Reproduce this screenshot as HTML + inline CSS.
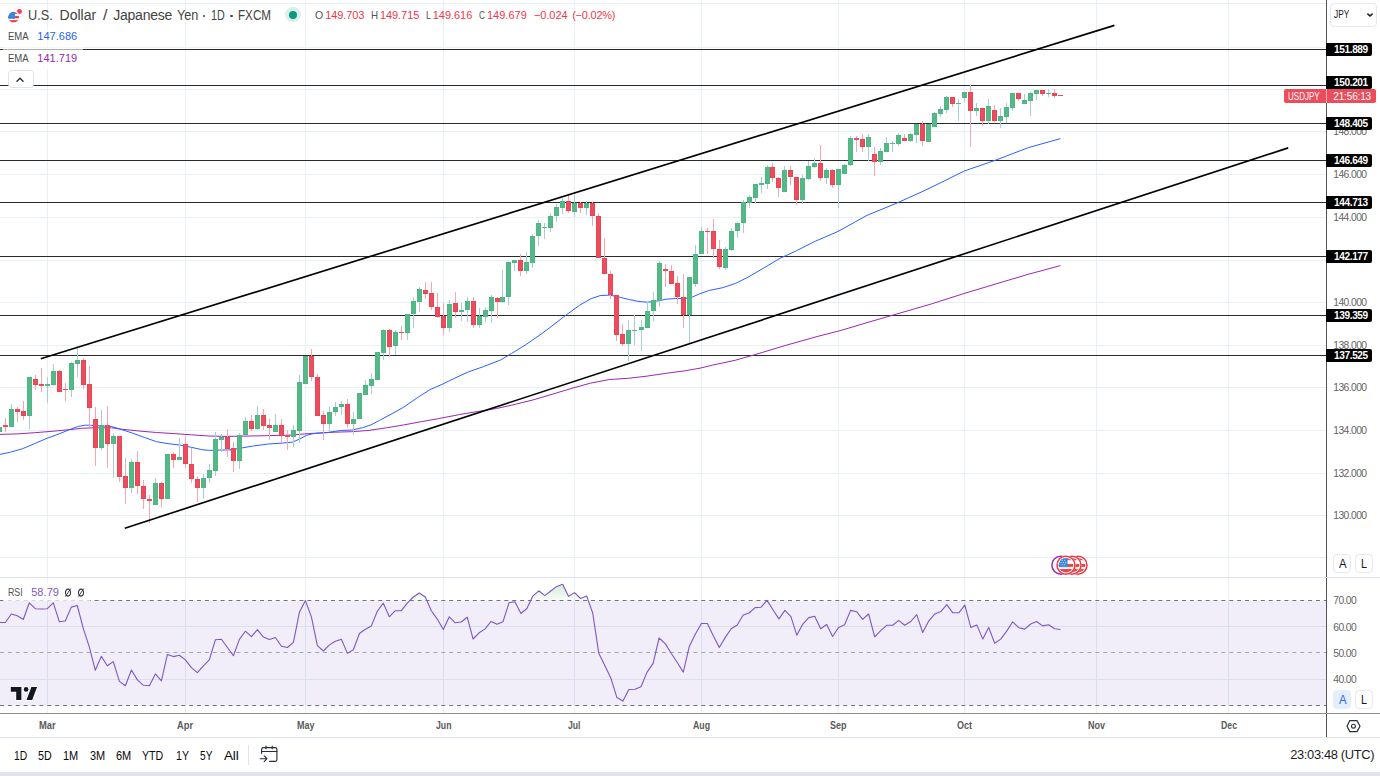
<!DOCTYPE html><html><head><meta charset="utf-8"><title>USDJPY</title><style>
html,body{margin:0;padding:0;background:#fff}
body{width:1380px;height:776px;position:relative;overflow:hidden;font-family:"Liberation Sans",sans-serif;}
.t{position:absolute;white-space:nowrap;line-height:1}
.pl{position:absolute;left:1326px;width:46px;height:13.5px;background:#000;color:#fff;font-weight:bold;font-size:10.1px;letter-spacing:-0.38px;line-height:13.5px;text-align:left;padding-left:8px;box-sizing:border-box;border-radius:0 2px 2px 0}
.gl{position:absolute;left:1333.3px;font-size:10.3px;letter-spacing:-0.58px;color:#636363;line-height:10px;height:10px}
.btn{position:absolute;box-sizing:border-box;width:18px;height:19px;border:1px solid #e6e8f0;border-radius:4px;font-size:13px;line-height:17px;text-align:center;color:#131722;background:#fff}
.mo{position:absolute;top:720px;font-size:9.6px;font-weight:bold;color:#5f5f5f;line-height:10px;transform:translateX(-50%)}
.tb{position:absolute;top:748px;font-size:13px;line-height:14px;color:#1c1c1c;letter-spacing:-0.3px}
.wbg{position:absolute;background:#fff}

</style></head><body>
<svg width="1380" height="776" viewBox="0 0 1380 776" style="position:absolute;left:0;top:0"><rect x="0" y="600.5" width="1326" height="105" fill="#7e57c2" fill-opacity="0.1"/><g fill="#e8f0f5" shape-rendering="crispEdges"><rect x="0" y="3" width="1326" height="1"/><rect x="0" y="47" width="1326" height="1"/><rect x="0" y="89" width="1326" height="1"/><rect x="0" y="131" width="1326" height="1"/><rect x="0" y="174" width="1326" height="1"/><rect x="0" y="217" width="1326" height="1"/><rect x="0" y="260" width="1326" height="1"/><rect x="0" y="302" width="1326" height="1"/><rect x="0" y="345" width="1326" height="1"/><rect x="0" y="387" width="1326" height="1"/><rect x="0" y="430" width="1326" height="1"/><rect x="0" y="473" width="1326" height="1"/><rect x="0" y="515" width="1326" height="1"/><rect x="0" y="557" width="1326" height="1"/><rect x="47" y="0" width="1" height="577"/><rect x="47" y="578" width="1" height="135"/><rect x="185" y="0" width="1" height="577"/><rect x="185" y="578" width="1" height="135"/><rect x="305" y="0" width="1" height="577"/><rect x="305" y="578" width="1" height="135"/><rect x="443" y="0" width="1" height="577"/><rect x="443" y="578" width="1" height="135"/><rect x="574" y="0" width="1" height="577"/><rect x="574" y="578" width="1" height="135"/><rect x="701" y="0" width="1" height="577"/><rect x="701" y="578" width="1" height="135"/><rect x="838" y="0" width="1" height="577"/><rect x="838" y="578" width="1" height="135"/><rect x="964" y="0" width="1" height="577"/><rect x="964" y="578" width="1" height="135"/><rect x="1096" y="0" width="1" height="577"/><rect x="1096" y="578" width="1" height="135"/><rect x="1228" y="0" width="1" height="577"/><rect x="1228" y="578" width="1" height="135"/></g><g fill="#d9dff0" shape-rendering="crispEdges"><rect x="0" y="626" width="1326" height="1"/><rect x="0" y="679" width="1326" height="1"/><rect x="47" y="601" width="1" height="104"/><rect x="185" y="601" width="1" height="104"/><rect x="305" y="601" width="1" height="104"/><rect x="443" y="601" width="1" height="104"/><rect x="574" y="601" width="1" height="104"/><rect x="701" y="601" width="1" height="104"/><rect x="838" y="601" width="1" height="104"/><rect x="964" y="601" width="1" height="104"/><rect x="1096" y="601" width="1" height="104"/><rect x="1228" y="601" width="1" height="104"/></g><g stroke-width="1" fill="none"><path d="M0 600.5H1326" stroke="#6f7280" stroke-dasharray="4 3.88"/><path d="M0 652.5H1326" stroke="#a3a5b5" stroke-dasharray="4 3.88"/><path d="M0 705.5H1326" stroke="#6f7280" stroke-dasharray="4 3.88"/></g><g fill="#2a2a2a" shape-rendering="crispEdges"><rect x="0" y="49" width="1326" height="1"/><rect x="0" y="85" width="1326" height="1"/><rect x="0" y="123" width="1326" height="1"/><rect x="0" y="160" width="1326" height="1"/><rect x="0" y="202" width="1326" height="1"/><rect x="0" y="256" width="1326" height="1"/><rect x="0" y="315" width="1326" height="1"/><rect x="0" y="355" width="1326" height="1"/></g><polyline points="0.0,434.4 17.4,433.9 34.8,432.7 52.2,431.3 69.6,429.6 81.7,428.3 93.9,427.8 111.3,427.8 121.7,429.2 139.1,431.0 156.5,432.5 173.9,433.6 191.3,434.8 208.7,436.0 226.0,436.4 245.0,436.1 264.8,435.7 290.9,435.1 308.3,433.6 334.3,432.2 351.7,431.7 369.1,430.4 386.5,427.8 403.9,424.9 421.3,421.7 438.7,418.6 458.8,414.7 477.7,411.5 496.5,408.5 515.4,404.3 534.2,399.6 553.0,394.0 571.9,388.3 590.7,383.1 609.6,379.5 628.4,378.3 647.2,376.1 666.1,373.3 684.9,370.8 700.0,368.2 712.5,365.1 735.1,360.3 754.4,354.8 786.6,345.1 818.8,336.1 841.4,330.3 867.1,322.6 896.1,314.2 931.5,303.9 963.8,293.6 996.0,283.9 1028.2,274.3 1060.4,265.6" fill="none" stroke="#9c27b0" stroke-width="1" stroke-linejoin="round"/><polyline points="0.0,454.4 10.4,452.2 22.6,448.7 34.8,443.5 47.0,438.3 59.0,433.9 69.6,429.6 78.3,426.4 85.2,425.2 90.4,425.2 97.4,425.7 111.3,426.4 121.7,429.6 132.2,433.0 144.3,437.4 156.5,441.7 167.0,443.5 180.9,445.2 191.3,447.3 201.7,449.6 208.7,450.4 219.1,450.1 231.3,449.8 240.4,448.2 252.6,446.1 268.3,444.0 282.2,443.1 292.6,442.1 299.6,439.1 306.5,435.3 313.5,433.6 327.4,432.5 341.3,430.4 351.7,430.1 362.2,427.8 370.9,424.9 379.6,420.3 390.0,414.8 403.9,407.0 417.8,397.4 430.0,389.6 442.2,384.3 453.2,378.9 468.3,371.9 483.3,366.7 500.3,360.1 511.6,353.5 526.7,344.1 541.7,333.7 553.0,325.2 566.2,314.9 579.4,305.4 590.7,298.8 600.1,295.6 609.6,295.1 619.0,297.0 628.4,299.4 637.8,301.3 647.2,302.2 656.7,301.1 666.1,299.2 675.5,298.5 684.9,298.6 692.4,297.0 699.7,293.8 709.3,290.4 722.2,287.8 735.1,283.6 748.0,277.2 764.1,267.8 780.2,258.2 796.3,250.8 815.6,241.1 838.1,231.4 867.1,215.3 896.1,203.4 921.9,191.8 941.2,182.5 963.8,171.2 996.0,160.0 1028.2,147.7 1060.4,138.6" fill="none" stroke="#2962ff" stroke-width="1" stroke-linejoin="round"/><g shape-rendering="crispEdges"><rect x="-1" y="424" width="1" height="10" fill="#a9cdd3"/><rect x="5" y="418" width="1" height="14" fill="#f5a6ae"/><rect x="11" y="404" width="1" height="23" fill="#a9cdd3"/><rect x="17" y="407" width="1" height="15" fill="#f5a6ae"/><rect x="23" y="401" width="1" height="19" fill="#f5a6ae"/><rect x="29" y="377" width="1" height="52" fill="#a9cdd3"/><rect x="35" y="375" width="1" height="15" fill="#f5a6ae"/><rect x="41" y="368" width="1" height="24" fill="#f5a6ae"/><rect x="47" y="377" width="1" height="26" fill="#a9cdd3"/><rect x="53" y="364" width="1" height="22" fill="#a9cdd3"/><rect x="59" y="370" width="1" height="22" fill="#f5a6ae"/><rect x="65" y="383" width="1" height="18" fill="#f5a6ae"/><rect x="71" y="362" width="1" height="35" fill="#a9cdd3"/><rect x="77" y="346" width="1" height="31" fill="#a9cdd3"/><rect x="83" y="358" width="1" height="31" fill="#f5a6ae"/><rect x="89" y="366" width="1" height="61" fill="#f5a6ae"/><rect x="95" y="407" width="1" height="59" fill="#f5a6ae"/><rect x="101" y="410" width="1" height="40" fill="#a9cdd3"/><rect x="107" y="406" width="1" height="62" fill="#f5a6ae"/><rect x="113" y="433" width="1" height="45" fill="#a9cdd3"/><rect x="119" y="436" width="1" height="46" fill="#f5a6ae"/><rect x="125" y="458" width="1" height="46" fill="#f5a6ae"/><rect x="131" y="459" width="1" height="34" fill="#a9cdd3"/><rect x="137" y="451" width="1" height="43" fill="#f5a6ae"/><rect x="143" y="480" width="1" height="29" fill="#f5a6ae"/><rect x="149" y="495" width="1" height="28" fill="#f5a6ae"/><rect x="155" y="478" width="1" height="27" fill="#a9cdd3"/><rect x="161" y="482" width="1" height="25" fill="#f5a6ae"/><rect x="167" y="454" width="1" height="45" fill="#a9cdd3"/><rect x="173" y="452" width="1" height="16" fill="#f5a6ae"/><rect x="179" y="438" width="1" height="22" fill="#a9cdd3"/><rect x="185" y="436" width="1" height="32" fill="#f5a6ae"/><rect x="191" y="448" width="1" height="35" fill="#f5a6ae"/><rect x="197" y="476" width="1" height="26" fill="#f5a6ae"/><rect x="203" y="474" width="1" height="25" fill="#a9cdd3"/><rect x="209" y="464" width="1" height="19" fill="#a9cdd3"/><rect x="215" y="432" width="1" height="44" fill="#a9cdd3"/><rect x="221" y="434" width="1" height="18" fill="#a9cdd3"/><rect x="227" y="429" width="1" height="28" fill="#f5a6ae"/><rect x="233" y="442" width="1" height="30" fill="#f5a6ae"/><rect x="239" y="433" width="1" height="36" fill="#a9cdd3"/><rect x="245" y="417" width="1" height="18" fill="#a9cdd3"/><rect x="251" y="415" width="1" height="16" fill="#f5a6ae"/><rect x="257" y="406" width="1" height="24" fill="#a9cdd3"/><rect x="263" y="409" width="1" height="21" fill="#f5a6ae"/><rect x="269" y="419" width="1" height="21" fill="#f5a6ae"/><rect x="275" y="414" width="1" height="18" fill="#a9cdd3"/><rect x="281" y="419" width="1" height="24" fill="#f5a6ae"/><rect x="287" y="430" width="1" height="20" fill="#f5a6ae"/><rect x="293" y="425" width="1" height="22" fill="#a9cdd3"/><rect x="299" y="375" width="1" height="68" fill="#a9cdd3"/><rect x="305" y="356" width="1" height="28" fill="#a9cdd3"/><rect x="311" y="349" width="1" height="32" fill="#f5a6ae"/><rect x="317" y="374" width="1" height="42" fill="#f5a6ae"/><rect x="323" y="411" width="1" height="29" fill="#f5a6ae"/><rect x="329" y="406" width="1" height="26" fill="#a9cdd3"/><rect x="335" y="402" width="1" height="14" fill="#a9cdd3"/><rect x="341" y="401" width="1" height="14" fill="#a9cdd3"/><rect x="347" y="399" width="1" height="29" fill="#f5a6ae"/><rect x="353" y="412" width="1" height="23" fill="#a9cdd3"/><rect x="359" y="393" width="1" height="26" fill="#a9cdd3"/><rect x="365" y="380" width="1" height="15" fill="#a9cdd3"/><rect x="371" y="373" width="1" height="21" fill="#a9cdd3"/><rect x="377" y="352" width="1" height="28" fill="#a9cdd3"/><rect x="383" y="329" width="1" height="31" fill="#a9cdd3"/><rect x="389" y="329" width="1" height="28" fill="#f5a6ae"/><rect x="395" y="330" width="1" height="25" fill="#a9cdd3"/><rect x="401" y="326" width="1" height="14" fill="#f5a6ae"/><rect x="407" y="314" width="1" height="26" fill="#a9cdd3"/><rect x="413" y="297" width="1" height="31" fill="#a9cdd3"/><rect x="419" y="287" width="1" height="25" fill="#a9cdd3"/><rect x="425" y="282" width="1" height="17" fill="#f5a6ae"/><rect x="431" y="282" width="1" height="28" fill="#f5a6ae"/><rect x="437" y="293" width="1" height="25" fill="#f5a6ae"/><rect x="443" y="303" width="1" height="32" fill="#f5a6ae"/><rect x="449" y="300" width="1" height="32" fill="#a9cdd3"/><rect x="455" y="292" width="1" height="26" fill="#f5a6ae"/><rect x="461" y="303" width="1" height="18" fill="#a9cdd3"/><rect x="467" y="297" width="1" height="25" fill="#a9cdd3"/><rect x="473" y="297" width="1" height="31" fill="#f5a6ae"/><rect x="479" y="308" width="1" height="20" fill="#a9cdd3"/><rect x="485" y="307" width="1" height="15" fill="#a9cdd3"/><rect x="491" y="295" width="1" height="28" fill="#a9cdd3"/><rect x="497" y="297" width="1" height="21" fill="#f5a6ae"/><rect x="502" y="270" width="1" height="33" fill="#a9cdd3"/><rect x="508" y="262" width="1" height="43" fill="#a9cdd3"/><rect x="514" y="260" width="1" height="11" fill="#a9cdd3"/><rect x="520" y="254" width="1" height="22" fill="#f5a6ae"/><rect x="526" y="252" width="1" height="22" fill="#a9cdd3"/><rect x="532" y="234" width="1" height="34" fill="#a9cdd3"/><rect x="538" y="220" width="1" height="26" fill="#a9cdd3"/><rect x="544" y="223" width="1" height="16" fill="#a9cdd3"/><rect x="550" y="213" width="1" height="19" fill="#a9cdd3"/><rect x="556" y="204" width="1" height="18" fill="#a9cdd3"/><rect x="562" y="198" width="1" height="16" fill="#a9cdd3"/><rect x="568" y="194" width="1" height="19" fill="#f5a6ae"/><rect x="574" y="195" width="1" height="22" fill="#a9cdd3"/><rect x="580" y="202" width="1" height="11" fill="#f5a6ae"/><rect x="586" y="201" width="1" height="14" fill="#a9cdd3"/><rect x="592" y="202" width="1" height="24" fill="#f5a6ae"/><rect x="598" y="213" width="1" height="45" fill="#f5a6ae"/><rect x="604" y="238" width="1" height="36" fill="#f5a6ae"/><rect x="610" y="271" width="1" height="28" fill="#f5a6ae"/><rect x="616" y="295" width="1" height="46" fill="#f5a6ae"/><rect x="622" y="324" width="1" height="22" fill="#f5a6ae"/><rect x="628" y="320" width="1" height="41" fill="#a9cdd3"/><rect x="634" y="315" width="1" height="30" fill="#a9cdd3"/><rect x="641" y="320" width="1" height="31" fill="#a9cdd3"/><rect x="647" y="302" width="1" height="26" fill="#a9cdd3"/><rect x="653" y="292" width="1" height="29" fill="#a9cdd3"/><rect x="659" y="261" width="1" height="46" fill="#a9cdd3"/><rect x="665" y="264" width="1" height="23" fill="#f5a6ae"/><rect x="671" y="265" width="1" height="19" fill="#f5a6ae"/><rect x="677" y="276" width="1" height="28" fill="#f5a6ae"/><rect x="683" y="274" width="1" height="54" fill="#f5a6ae"/><rect x="689" y="277" width="1" height="66" fill="#a9cdd3"/><rect x="695" y="245" width="1" height="42" fill="#a9cdd3"/><rect x="701" y="227" width="1" height="27" fill="#a9cdd3"/><rect x="707" y="228" width="1" height="26" fill="#f5a6ae"/><rect x="713" y="219" width="1" height="39" fill="#f5a6ae"/><rect x="719" y="240" width="1" height="29" fill="#f5a6ae"/><rect x="725" y="247" width="1" height="23" fill="#a9cdd3"/><rect x="731" y="228" width="1" height="23" fill="#a9cdd3"/><rect x="737" y="222" width="1" height="16" fill="#a9cdd3"/><rect x="743" y="200" width="1" height="33" fill="#a9cdd3"/><rect x="749" y="195" width="1" height="13" fill="#a9cdd3"/><rect x="755" y="184" width="1" height="19" fill="#a9cdd3"/><rect x="761" y="177" width="1" height="16" fill="#a9cdd3"/><rect x="767" y="165" width="1" height="24" fill="#a9cdd3"/><rect x="772" y="163" width="1" height="19" fill="#f5a6ae"/><rect x="778" y="177" width="1" height="20" fill="#f5a6ae"/><rect x="784" y="166" width="1" height="26" fill="#a9cdd3"/><rect x="790" y="166" width="1" height="19" fill="#f5a6ae"/><rect x="796" y="177" width="1" height="28" fill="#f5a6ae"/><rect x="802" y="175" width="1" height="29" fill="#a9cdd3"/><rect x="808" y="161" width="1" height="19" fill="#a9cdd3"/><rect x="814" y="158" width="1" height="10" fill="#a9cdd3"/><rect x="820" y="145" width="1" height="36" fill="#f5a6ae"/><rect x="826" y="168" width="1" height="16" fill="#a9cdd3"/><rect x="832" y="169" width="1" height="19" fill="#f5a6ae"/><rect x="838" y="169" width="1" height="39" fill="#a9cdd3"/><rect x="844" y="164" width="1" height="10" fill="#a9cdd3"/><rect x="850" y="136" width="1" height="30" fill="#a9cdd3"/><rect x="856" y="136" width="1" height="16" fill="#f5a6ae"/><rect x="862" y="134" width="1" height="18" fill="#f5a6ae"/><rect x="868" y="134" width="1" height="27" fill="#a9cdd3"/><rect x="874" y="147" width="1" height="29" fill="#f5a6ae"/><rect x="880" y="148" width="1" height="17" fill="#a9cdd3"/><rect x="886" y="137" width="1" height="15" fill="#a9cdd3"/><rect x="892" y="141" width="1" height="11" fill="#a9cdd3"/><rect x="898" y="133" width="1" height="13" fill="#a9cdd3"/><rect x="904" y="134" width="1" height="7" fill="#f5a6ae"/><rect x="910" y="133" width="1" height="9" fill="#a9cdd3"/><rect x="916" y="124" width="1" height="19" fill="#a9cdd3"/><rect x="922" y="121" width="1" height="25" fill="#f5a6ae"/><rect x="928" y="124" width="1" height="18" fill="#a9cdd3"/><rect x="934" y="112" width="1" height="15" fill="#a9cdd3"/><rect x="940" y="106" width="1" height="11" fill="#a9cdd3"/><rect x="946" y="96" width="1" height="17" fill="#a9cdd3"/><rect x="952" y="97" width="1" height="10" fill="#f5a6ae"/><rect x="958" y="99" width="1" height="22" fill="#a9cdd3"/><rect x="964" y="92" width="1" height="10" fill="#a9cdd3"/><rect x="970" y="85" width="1" height="62" fill="#f5a6ae"/><rect x="976" y="103" width="1" height="13" fill="#a9cdd3"/><rect x="982" y="108" width="1" height="18" fill="#f5a6ae"/><rect x="988" y="99" width="1" height="25" fill="#a9cdd3"/><rect x="994" y="105" width="1" height="17" fill="#f5a6ae"/><rect x="1000" y="108" width="1" height="20" fill="#a9cdd3"/><rect x="1006" y="103" width="1" height="20" fill="#a9cdd3"/><rect x="1012" y="93" width="1" height="18" fill="#a9cdd3"/><rect x="1018" y="93" width="1" height="8" fill="#f5a6ae"/><rect x="1024" y="94" width="1" height="10" fill="#a9cdd3"/><rect x="1030" y="92" width="1" height="24" fill="#a9cdd3"/><rect x="1036" y="90" width="1" height="10" fill="#a9cdd3"/><rect x="1042" y="90" width="1" height="6" fill="#f5a6ae"/><rect x="1048" y="89" width="1" height="8" fill="#a9cdd3"/><rect x="1054" y="89" width="1" height="9" fill="#f5a6ae"/><rect x="1060" y="95" width="1" height="1" fill="#f5a6ae"/><rect x="-3" y="427" width="5" height="5" fill="#4fb584"/><rect x="-2" y="428" width="3" height="3" fill="#53b987"/><rect x="3" y="425" width="5" height="2" fill="#eb4d5c"/><rect x="9" y="409" width="5" height="18" fill="#4fb584"/><rect x="10" y="410" width="3" height="16" fill="#53b987"/><rect x="15" y="409" width="5" height="3" fill="#ea4457"/><rect x="16" y="410" width="3" height="1" fill="#eb4d5c"/><rect x="21" y="411" width="5" height="5" fill="#ea4457"/><rect x="22" y="412" width="3" height="3" fill="#eb4d5c"/><rect x="27" y="377" width="5" height="39" fill="#4fb584"/><rect x="28" y="378" width="3" height="37" fill="#53b987"/><rect x="33" y="379" width="5" height="6" fill="#ea4457"/><rect x="34" y="380" width="3" height="4" fill="#eb4d5c"/><rect x="39" y="384" width="5" height="2" fill="#eb4d5c"/><rect x="45" y="384" width="5" height="2" fill="#53b987"/><rect x="51" y="371" width="5" height="14" fill="#4fb584"/><rect x="52" y="372" width="3" height="12" fill="#53b987"/><rect x="57" y="371" width="5" height="21" fill="#ea4457"/><rect x="58" y="372" width="3" height="19" fill="#eb4d5c"/><rect x="63" y="389" width="5" height="1" fill="#eb4d5c"/><rect x="69" y="363" width="5" height="27" fill="#4fb584"/><rect x="70" y="364" width="3" height="25" fill="#53b987"/><rect x="75" y="360" width="5" height="4" fill="#4fb584"/><rect x="76" y="361" width="3" height="2" fill="#53b987"/><rect x="81" y="360" width="5" height="25" fill="#ea4457"/><rect x="82" y="361" width="3" height="23" fill="#eb4d5c"/><rect x="87" y="384" width="5" height="24" fill="#ea4457"/><rect x="88" y="385" width="3" height="22" fill="#eb4d5c"/><rect x="93" y="419" width="5" height="29" fill="#ea4457"/><rect x="94" y="420" width="3" height="27" fill="#eb4d5c"/><rect x="99" y="425" width="5" height="23" fill="#4fb584"/><rect x="100" y="426" width="3" height="21" fill="#53b987"/><rect x="105" y="425" width="5" height="19" fill="#ea4457"/><rect x="106" y="426" width="3" height="17" fill="#eb4d5c"/><rect x="111" y="436" width="5" height="8" fill="#4fb584"/><rect x="112" y="437" width="3" height="6" fill="#53b987"/><rect x="117" y="436" width="5" height="41" fill="#ea4457"/><rect x="118" y="437" width="3" height="39" fill="#eb4d5c"/><rect x="123" y="476" width="5" height="12" fill="#ea4457"/><rect x="124" y="477" width="3" height="10" fill="#eb4d5c"/><rect x="129" y="462" width="5" height="26" fill="#4fb584"/><rect x="130" y="463" width="3" height="24" fill="#53b987"/><rect x="135" y="462" width="5" height="24" fill="#ea4457"/><rect x="136" y="463" width="3" height="22" fill="#eb4d5c"/><rect x="141" y="486" width="5" height="13" fill="#ea4457"/><rect x="142" y="487" width="3" height="11" fill="#eb4d5c"/><rect x="147" y="499" width="5" height="2" fill="#eb4d5c"/><rect x="153" y="483" width="5" height="22" fill="#4fb584"/><rect x="154" y="484" width="3" height="20" fill="#53b987"/><rect x="159" y="483" width="5" height="16" fill="#ea4457"/><rect x="160" y="484" width="3" height="14" fill="#eb4d5c"/><rect x="165" y="454" width="5" height="45" fill="#4fb584"/><rect x="166" y="455" width="3" height="43" fill="#53b987"/><rect x="171" y="454" width="5" height="6" fill="#ea4457"/><rect x="172" y="455" width="3" height="4" fill="#eb4d5c"/><rect x="177" y="457" width="5" height="3" fill="#4fb584"/><rect x="178" y="458" width="3" height="1" fill="#53b987"/><rect x="183" y="444" width="5" height="20" fill="#ea4457"/><rect x="184" y="445" width="3" height="18" fill="#eb4d5c"/><rect x="189" y="464" width="5" height="15" fill="#ea4457"/><rect x="190" y="465" width="3" height="13" fill="#eb4d5c"/><rect x="195" y="479" width="5" height="9" fill="#ea4457"/><rect x="196" y="480" width="3" height="7" fill="#eb4d5c"/><rect x="201" y="478" width="5" height="10" fill="#4fb584"/><rect x="202" y="479" width="3" height="8" fill="#53b987"/><rect x="207" y="470" width="5" height="8" fill="#4fb584"/><rect x="208" y="471" width="3" height="6" fill="#53b987"/><rect x="213" y="439" width="5" height="32" fill="#4fb584"/><rect x="214" y="440" width="3" height="30" fill="#53b987"/><rect x="219" y="437" width="5" height="3" fill="#4fb584"/><rect x="220" y="438" width="3" height="1" fill="#53b987"/><rect x="225" y="437" width="5" height="12" fill="#ea4457"/><rect x="226" y="438" width="3" height="10" fill="#eb4d5c"/><rect x="231" y="448" width="5" height="13" fill="#ea4457"/><rect x="232" y="449" width="3" height="11" fill="#eb4d5c"/><rect x="237" y="435" width="5" height="26" fill="#4fb584"/><rect x="238" y="436" width="3" height="24" fill="#53b987"/><rect x="243" y="421" width="5" height="14" fill="#4fb584"/><rect x="244" y="422" width="3" height="12" fill="#53b987"/><rect x="249" y="421" width="5" height="8" fill="#ea4457"/><rect x="250" y="422" width="3" height="6" fill="#eb4d5c"/><rect x="255" y="415" width="5" height="14" fill="#4fb584"/><rect x="256" y="416" width="3" height="12" fill="#53b987"/><rect x="261" y="415" width="5" height="11" fill="#ea4457"/><rect x="262" y="416" width="3" height="9" fill="#eb4d5c"/><rect x="267" y="425" width="5" height="3" fill="#ea4457"/><rect x="268" y="426" width="3" height="1" fill="#eb4d5c"/><rect x="273" y="425" width="5" height="7" fill="#4fb584"/><rect x="274" y="426" width="3" height="5" fill="#53b987"/><rect x="279" y="425" width="5" height="11" fill="#ea4457"/><rect x="280" y="426" width="3" height="9" fill="#eb4d5c"/><rect x="285" y="435" width="5" height="2" fill="#eb4d5c"/><rect x="291" y="430" width="5" height="7" fill="#4fb584"/><rect x="292" y="431" width="3" height="5" fill="#53b987"/><rect x="297" y="382" width="5" height="49" fill="#4fb584"/><rect x="298" y="383" width="3" height="47" fill="#53b987"/><rect x="303" y="356" width="5" height="28" fill="#4fb584"/><rect x="304" y="357" width="3" height="26" fill="#53b987"/><rect x="309" y="356" width="5" height="21" fill="#ea4457"/><rect x="310" y="357" width="3" height="19" fill="#eb4d5c"/><rect x="315" y="377" width="5" height="39" fill="#ea4457"/><rect x="316" y="378" width="3" height="37" fill="#eb4d5c"/><rect x="321" y="415" width="5" height="9" fill="#ea4457"/><rect x="322" y="416" width="3" height="7" fill="#eb4d5c"/><rect x="327" y="412" width="5" height="12" fill="#4fb584"/><rect x="328" y="413" width="3" height="10" fill="#53b987"/><rect x="333" y="407" width="5" height="5" fill="#4fb584"/><rect x="334" y="408" width="3" height="3" fill="#53b987"/><rect x="339" y="404" width="5" height="3" fill="#4fb584"/><rect x="340" y="405" width="3" height="1" fill="#53b987"/><rect x="345" y="404" width="5" height="20" fill="#ea4457"/><rect x="346" y="405" width="3" height="18" fill="#eb4d5c"/><rect x="351" y="419" width="5" height="5" fill="#4fb584"/><rect x="352" y="420" width="3" height="3" fill="#53b987"/><rect x="357" y="393" width="5" height="26" fill="#4fb584"/><rect x="358" y="394" width="3" height="24" fill="#53b987"/><rect x="363" y="385" width="5" height="10" fill="#4fb584"/><rect x="364" y="386" width="3" height="8" fill="#53b987"/><rect x="369" y="379" width="5" height="7" fill="#4fb584"/><rect x="370" y="380" width="3" height="5" fill="#53b987"/><rect x="375" y="352" width="5" height="28" fill="#4fb584"/><rect x="376" y="353" width="3" height="26" fill="#53b987"/><rect x="381" y="330" width="5" height="23" fill="#4fb584"/><rect x="382" y="331" width="3" height="21" fill="#53b987"/><rect x="387" y="330" width="5" height="17" fill="#ea4457"/><rect x="388" y="331" width="3" height="15" fill="#eb4d5c"/><rect x="393" y="332" width="5" height="14" fill="#4fb584"/><rect x="394" y="333" width="3" height="12" fill="#53b987"/><rect x="399" y="332" width="5" height="1" fill="#eb4d5c"/><rect x="405" y="314" width="5" height="19" fill="#4fb584"/><rect x="406" y="315" width="3" height="17" fill="#53b987"/><rect x="411" y="301" width="5" height="13" fill="#4fb584"/><rect x="412" y="302" width="3" height="11" fill="#53b987"/><rect x="417" y="289" width="5" height="13" fill="#4fb584"/><rect x="418" y="290" width="3" height="11" fill="#53b987"/><rect x="423" y="290" width="5" height="4" fill="#ea4457"/><rect x="424" y="291" width="3" height="2" fill="#eb4d5c"/><rect x="429" y="293" width="5" height="14" fill="#ea4457"/><rect x="430" y="294" width="3" height="12" fill="#eb4d5c"/><rect x="435" y="307" width="5" height="10" fill="#ea4457"/><rect x="436" y="308" width="3" height="8" fill="#eb4d5c"/><rect x="441" y="316" width="5" height="12" fill="#ea4457"/><rect x="442" y="317" width="3" height="10" fill="#eb4d5c"/><rect x="447" y="304" width="5" height="24" fill="#4fb584"/><rect x="448" y="305" width="3" height="22" fill="#53b987"/><rect x="453" y="303" width="5" height="9" fill="#ea4457"/><rect x="454" y="304" width="3" height="7" fill="#eb4d5c"/><rect x="459" y="310" width="5" height="2" fill="#53b987"/><rect x="465" y="301" width="5" height="9" fill="#4fb584"/><rect x="466" y="302" width="3" height="7" fill="#53b987"/><rect x="471" y="301" width="5" height="24" fill="#ea4457"/><rect x="472" y="302" width="3" height="22" fill="#eb4d5c"/><rect x="477" y="316" width="5" height="9" fill="#4fb584"/><rect x="478" y="317" width="3" height="7" fill="#53b987"/><rect x="483" y="310" width="5" height="7" fill="#4fb584"/><rect x="484" y="311" width="3" height="5" fill="#53b987"/><rect x="489" y="297" width="5" height="14" fill="#4fb584"/><rect x="490" y="298" width="3" height="12" fill="#53b987"/><rect x="495" y="298" width="5" height="4" fill="#ea4457"/><rect x="496" y="299" width="3" height="2" fill="#eb4d5c"/><rect x="500" y="297" width="5" height="5" fill="#4fb584"/><rect x="501" y="298" width="3" height="3" fill="#53b987"/><rect x="506" y="262" width="5" height="35" fill="#4fb584"/><rect x="507" y="263" width="3" height="33" fill="#53b987"/><rect x="512" y="260" width="5" height="3" fill="#4fb584"/><rect x="513" y="261" width="3" height="1" fill="#53b987"/><rect x="518" y="260" width="5" height="11" fill="#ea4457"/><rect x="519" y="261" width="3" height="9" fill="#eb4d5c"/><rect x="524" y="262" width="5" height="9" fill="#4fb584"/><rect x="525" y="263" width="3" height="7" fill="#53b987"/><rect x="530" y="236" width="5" height="27" fill="#4fb584"/><rect x="531" y="237" width="3" height="25" fill="#53b987"/><rect x="536" y="223" width="5" height="13" fill="#4fb584"/><rect x="537" y="224" width="3" height="11" fill="#53b987"/><rect x="542" y="227" width="5" height="1" fill="#53b987"/><rect x="548" y="216" width="5" height="12" fill="#4fb584"/><rect x="549" y="217" width="3" height="10" fill="#53b987"/><rect x="554" y="207" width="5" height="9" fill="#4fb584"/><rect x="555" y="208" width="3" height="7" fill="#53b987"/><rect x="560" y="201" width="5" height="7" fill="#4fb584"/><rect x="561" y="202" width="3" height="5" fill="#53b987"/><rect x="566" y="201" width="5" height="10" fill="#ea4457"/><rect x="567" y="202" width="3" height="8" fill="#eb4d5c"/><rect x="572" y="203" width="5" height="9" fill="#4fb584"/><rect x="573" y="204" width="3" height="7" fill="#53b987"/><rect x="578" y="203" width="5" height="5" fill="#ea4457"/><rect x="579" y="204" width="3" height="3" fill="#eb4d5c"/><rect x="584" y="203" width="5" height="5" fill="#4fb584"/><rect x="585" y="204" width="3" height="3" fill="#53b987"/><rect x="590" y="203" width="5" height="13" fill="#ea4457"/><rect x="591" y="204" width="3" height="11" fill="#eb4d5c"/><rect x="596" y="216" width="5" height="42" fill="#ea4457"/><rect x="597" y="217" width="3" height="40" fill="#eb4d5c"/><rect x="602" y="258" width="5" height="16" fill="#ea4457"/><rect x="603" y="259" width="3" height="14" fill="#eb4d5c"/><rect x="608" y="274" width="5" height="21" fill="#ea4457"/><rect x="609" y="275" width="3" height="19" fill="#eb4d5c"/><rect x="614" y="295" width="5" height="40" fill="#ea4457"/><rect x="615" y="296" width="3" height="38" fill="#eb4d5c"/><rect x="620" y="334" width="5" height="10" fill="#ea4457"/><rect x="621" y="335" width="3" height="8" fill="#eb4d5c"/><rect x="626" y="330" width="5" height="14" fill="#4fb584"/><rect x="627" y="331" width="3" height="12" fill="#53b987"/><rect x="632" y="330" width="5" height="1" fill="#53b987"/><rect x="639" y="327" width="5" height="3" fill="#4fb584"/><rect x="640" y="328" width="3" height="1" fill="#53b987"/><rect x="645" y="311" width="5" height="17" fill="#4fb584"/><rect x="646" y="312" width="3" height="15" fill="#53b987"/><rect x="651" y="300" width="5" height="11" fill="#4fb584"/><rect x="652" y="301" width="3" height="9" fill="#53b987"/><rect x="657" y="263" width="5" height="38" fill="#4fb584"/><rect x="658" y="264" width="3" height="36" fill="#53b987"/><rect x="663" y="269" width="5" height="2" fill="#eb4d5c"/><rect x="669" y="271" width="5" height="13" fill="#ea4457"/><rect x="670" y="272" width="3" height="11" fill="#eb4d5c"/><rect x="675" y="283" width="5" height="14" fill="#ea4457"/><rect x="676" y="284" width="3" height="12" fill="#eb4d5c"/><rect x="681" y="297" width="5" height="18" fill="#ea4457"/><rect x="682" y="298" width="3" height="16" fill="#eb4d5c"/><rect x="687" y="277" width="5" height="38" fill="#4fb584"/><rect x="688" y="278" width="3" height="36" fill="#53b987"/><rect x="693" y="254" width="5" height="30" fill="#4fb584"/><rect x="694" y="255" width="3" height="28" fill="#53b987"/><rect x="699" y="231" width="5" height="23" fill="#4fb584"/><rect x="700" y="232" width="3" height="21" fill="#53b987"/><rect x="705" y="231" width="5" height="1" fill="#eb4d5c"/><rect x="711" y="231" width="5" height="18" fill="#ea4457"/><rect x="712" y="232" width="3" height="16" fill="#eb4d5c"/><rect x="717" y="249" width="5" height="18" fill="#ea4457"/><rect x="718" y="250" width="3" height="16" fill="#eb4d5c"/><rect x="723" y="249" width="5" height="19" fill="#4fb584"/><rect x="724" y="250" width="3" height="17" fill="#53b987"/><rect x="729" y="231" width="5" height="19" fill="#4fb584"/><rect x="730" y="232" width="3" height="17" fill="#53b987"/><rect x="735" y="223" width="5" height="8" fill="#4fb584"/><rect x="736" y="224" width="3" height="6" fill="#53b987"/><rect x="741" y="202" width="5" height="21" fill="#4fb584"/><rect x="742" y="203" width="3" height="19" fill="#53b987"/><rect x="747" y="197" width="5" height="6" fill="#4fb584"/><rect x="748" y="198" width="3" height="4" fill="#53b987"/><rect x="753" y="184" width="5" height="14" fill="#4fb584"/><rect x="754" y="185" width="3" height="12" fill="#53b987"/><rect x="759" y="183" width="5" height="2" fill="#53b987"/><rect x="765" y="167" width="5" height="17" fill="#4fb584"/><rect x="766" y="168" width="3" height="15" fill="#53b987"/><rect x="770" y="167" width="5" height="11" fill="#ea4457"/><rect x="771" y="168" width="3" height="9" fill="#eb4d5c"/><rect x="776" y="178" width="5" height="10" fill="#ea4457"/><rect x="777" y="179" width="3" height="8" fill="#eb4d5c"/><rect x="782" y="170" width="5" height="22" fill="#4fb584"/><rect x="783" y="171" width="3" height="20" fill="#53b987"/><rect x="788" y="170" width="5" height="7" fill="#ea4457"/><rect x="789" y="171" width="3" height="5" fill="#eb4d5c"/><rect x="794" y="177" width="5" height="23" fill="#ea4457"/><rect x="795" y="178" width="3" height="21" fill="#eb4d5c"/><rect x="800" y="178" width="5" height="22" fill="#4fb584"/><rect x="801" y="179" width="3" height="20" fill="#53b987"/><rect x="806" y="166" width="5" height="13" fill="#4fb584"/><rect x="807" y="167" width="3" height="11" fill="#53b987"/><rect x="812" y="163" width="5" height="4" fill="#4fb584"/><rect x="813" y="164" width="3" height="2" fill="#53b987"/><rect x="818" y="163" width="5" height="15" fill="#ea4457"/><rect x="819" y="164" width="3" height="13" fill="#eb4d5c"/><rect x="824" y="170" width="5" height="8" fill="#4fb584"/><rect x="825" y="171" width="3" height="6" fill="#53b987"/><rect x="830" y="170" width="5" height="15" fill="#ea4457"/><rect x="831" y="171" width="3" height="13" fill="#eb4d5c"/><rect x="836" y="169" width="5" height="16" fill="#4fb584"/><rect x="837" y="170" width="3" height="14" fill="#53b987"/><rect x="842" y="165" width="5" height="9" fill="#4fb584"/><rect x="843" y="166" width="3" height="7" fill="#53b987"/><rect x="848" y="138" width="5" height="27" fill="#4fb584"/><rect x="849" y="139" width="3" height="25" fill="#53b987"/><rect x="854" y="138" width="5" height="2" fill="#eb4d5c"/><rect x="860" y="139" width="5" height="8" fill="#ea4457"/><rect x="861" y="140" width="3" height="6" fill="#eb4d5c"/><rect x="866" y="137" width="5" height="10" fill="#4fb584"/><rect x="867" y="138" width="3" height="8" fill="#53b987"/><rect x="872" y="154" width="5" height="8" fill="#ea4457"/><rect x="873" y="155" width="3" height="6" fill="#eb4d5c"/><rect x="878" y="151" width="5" height="11" fill="#4fb584"/><rect x="879" y="152" width="3" height="9" fill="#53b987"/><rect x="884" y="143" width="5" height="9" fill="#4fb584"/><rect x="885" y="144" width="3" height="7" fill="#53b987"/><rect x="890" y="143" width="5" height="1" fill="#53b987"/><rect x="896" y="135" width="5" height="9" fill="#4fb584"/><rect x="897" y="136" width="3" height="7" fill="#53b987"/><rect x="902" y="138" width="5" height="3" fill="#ea4457"/><rect x="903" y="139" width="3" height="1" fill="#eb4d5c"/><rect x="908" y="134" width="5" height="7" fill="#4fb584"/><rect x="909" y="135" width="3" height="5" fill="#53b987"/><rect x="914" y="124" width="5" height="11" fill="#4fb584"/><rect x="915" y="125" width="3" height="9" fill="#53b987"/><rect x="920" y="124" width="5" height="17" fill="#ea4457"/><rect x="921" y="125" width="3" height="15" fill="#eb4d5c"/><rect x="926" y="124" width="5" height="18" fill="#4fb584"/><rect x="927" y="125" width="3" height="16" fill="#53b987"/><rect x="932" y="113" width="5" height="14" fill="#4fb584"/><rect x="933" y="114" width="3" height="12" fill="#53b987"/><rect x="938" y="109" width="5" height="5" fill="#4fb584"/><rect x="939" y="110" width="3" height="3" fill="#53b987"/><rect x="944" y="97" width="5" height="13" fill="#4fb584"/><rect x="945" y="98" width="3" height="11" fill="#53b987"/><rect x="950" y="97" width="5" height="7" fill="#ea4457"/><rect x="951" y="98" width="3" height="5" fill="#eb4d5c"/><rect x="956" y="103" width="5" height="1" fill="#53b987"/><rect x="962" y="92" width="5" height="6" fill="#4fb584"/><rect x="963" y="93" width="3" height="4" fill="#53b987"/><rect x="968" y="92" width="5" height="19" fill="#ea4457"/><rect x="969" y="93" width="3" height="17" fill="#eb4d5c"/><rect x="974" y="108" width="5" height="3" fill="#4fb584"/><rect x="975" y="109" width="3" height="1" fill="#53b987"/><rect x="980" y="108" width="5" height="13" fill="#ea4457"/><rect x="981" y="109" width="3" height="11" fill="#eb4d5c"/><rect x="986" y="106" width="5" height="15" fill="#4fb584"/><rect x="987" y="107" width="3" height="13" fill="#53b987"/><rect x="992" y="110" width="5" height="11" fill="#ea4457"/><rect x="993" y="111" width="3" height="9" fill="#eb4d5c"/><rect x="998" y="116" width="5" height="5" fill="#4fb584"/><rect x="999" y="117" width="3" height="3" fill="#53b987"/><rect x="1004" y="107" width="5" height="10" fill="#4fb584"/><rect x="1005" y="108" width="3" height="8" fill="#53b987"/><rect x="1010" y="93" width="5" height="15" fill="#4fb584"/><rect x="1011" y="94" width="3" height="13" fill="#53b987"/><rect x="1016" y="93" width="5" height="6" fill="#ea4457"/><rect x="1017" y="94" width="3" height="4" fill="#eb4d5c"/><rect x="1022" y="100" width="5" height="4" fill="#4fb584"/><rect x="1023" y="101" width="3" height="2" fill="#53b987"/><rect x="1028" y="93" width="5" height="8" fill="#4fb584"/><rect x="1029" y="94" width="3" height="6" fill="#53b987"/><rect x="1034" y="90" width="5" height="4" fill="#4fb584"/><rect x="1035" y="91" width="3" height="2" fill="#53b987"/><rect x="1040" y="90" width="5" height="4" fill="#ea4457"/><rect x="1041" y="91" width="3" height="2" fill="#eb4d5c"/><rect x="1046" y="93" width="5" height="1" fill="#53b987"/><rect x="1052" y="93" width="5" height="3" fill="#ea4457"/><rect x="1053" y="94" width="3" height="1" fill="#eb4d5c"/><rect x="1058" y="95" width="5" height="1" fill="#eb4d5c"/></g><g stroke="#000" stroke-width="1.65"><line x1="40.8" y1="358.7" x2="1114.4" y2="25.4"/><line x1="124.8" y1="528.3" x2="1288.2" y2="147.9"/></g><defs><linearGradient id="ob" x1="0" y1="580" x2="0" y2="600.5" gradientUnits="userSpaceOnUse"><stop offset="0" stop-color="#4caf50" stop-opacity="0.32"/><stop offset="1" stop-color="#4caf50" stop-opacity="0.03"/></linearGradient><clipPath id="obc"><rect x="0" y="578" width="1326" height="22.5"/></clipPath></defs><polygon clip-path="url(#obc)" fill="url(#ob)" points="-0.7,600.5 -0.7,622.5 5.3,622.5 11.3,614.0 17.3,615.8 23.3,619.5 29.3,602.8 35.3,608.7 41.3,609.0 47.3,608.7 53.3,602.8 59.3,621.7 65.3,621.0 71.3,607.1 77.3,605.5 83.3,628.6 89.3,646.9 95.3,670.3 101.3,656.4 107.3,665.8 113.3,661.6 119.4,681.4 125.4,685.7 131.4,670.0 137.4,679.9 143.4,685.3 149.4,685.7 155.4,673.9 161.4,680.8 167.4,654.4 173.4,656.6 179.4,655.3 185.4,659.9 191.4,667.7 197.4,672.7 203.4,665.8 209.4,659.6 215.4,639.7 221.4,639.3 227.4,647.5 233.4,655.7 239.4,639.4 245.4,631.2 251.4,636.7 257.4,629.7 263.4,637.1 269.4,639.4 275.4,637.5 281.4,646.2 287.4,647.5 293.4,642.3 299.4,612.3 305.4,600.6 311.4,616.9 317.4,645.6 323.4,651.0 329.4,644.9 335.4,641.3 341.4,639.3 347.4,653.4 353.4,649.8 359.4,633.5 365.4,629.3 371.4,625.9 377.3,611.3 383.3,603.1 389.3,616.8 395.3,610.7 401.3,610.7 407.3,603.2 413.3,597.0 419.3,593.0 425.3,597.0 431.3,610.7 437.3,619.1 443.3,629.6 449.3,616.8 455.2,622.8 461.2,622.0 467.2,617.2 473.1,639.0 479.1,632.8 485.1,628.9 491.0,621.5 497.0,624.3 503.0,621.7 509.0,602.8 514.9,601.8 520.9,613.5 526.9,608.5 532.8,596.1 538.8,590.8 544.8,595.6 550.7,591.0 556.7,586.4 562.7,584.3 568.6,596.4 574.6,592.6 580.6,598.5 586.7,596.1 592.7,613.0 598.8,653.3 604.8,665.4 610.8,677.9 616.9,697.6 622.9,701.1 628.9,689.5 635.0,689.2 641.0,686.8 647.1,672.1 653.1,663.4 659.1,638.0 665.2,643.6 671.2,653.3 677.2,662.5 683.3,672.1 689.3,646.4 695.4,634.0 701.4,623.5 707.4,623.5 713.3,635.8 719.3,647.5 725.3,637.4 731.2,628.7 737.2,625.0 743.2,615.0 749.1,613.0 755.1,607.6 761.1,607.2 767.0,600.4 773.0,609.8 778.9,618.9 784.9,610.4 790.9,616.7 796.8,635.2 802.8,624.1 808.8,617.6 814.7,616.3 820.7,628.7 826.7,624.5 832.6,636.5 838.6,627.4 844.6,624.8 850.6,610.4 856.6,611.7 862.6,619.3 868.6,614.0 874.7,636.8 880.7,630.6 886.7,625.3 892.7,625.3 898.7,620.4 904.7,625.2 910.7,621.5 916.7,614.6 922.7,632.5 928.7,621.1 934.8,613.9 940.8,611.6 946.8,604.7 952.8,612.8 958.8,612.8 964.8,605.2 970.8,627.4 976.8,624.9 982.8,639.1 988.7,627.4 994.7,643.2 1000.7,639.1 1006.7,631.1 1012.7,621.8 1018.7,627.7 1024.7,629.1 1030.7,624.0 1036.6,621.5 1042.6,625.9 1048.6,624.7 1054.6,628.8 1060.6,629.5 1060.6,600.5"/><polyline points="-0.7,622.5 5.3,622.5 11.3,614.0 17.3,615.8 23.3,619.5 29.3,602.8 35.3,608.7 41.3,609.0 47.3,608.7 53.3,602.8 59.3,621.7 65.3,621.0 71.3,607.1 77.3,605.5 83.3,628.6 89.3,646.9 95.3,670.3 101.3,656.4 107.3,665.8 113.3,661.6 119.4,681.4 125.4,685.7 131.4,670.0 137.4,679.9 143.4,685.3 149.4,685.7 155.4,673.9 161.4,680.8 167.4,654.4 173.4,656.6 179.4,655.3 185.4,659.9 191.4,667.7 197.4,672.7 203.4,665.8 209.4,659.6 215.4,639.7 221.4,639.3 227.4,647.5 233.4,655.7 239.4,639.4 245.4,631.2 251.4,636.7 257.4,629.7 263.4,637.1 269.4,639.4 275.4,637.5 281.4,646.2 287.4,647.5 293.4,642.3 299.4,612.3 305.4,600.6 311.4,616.9 317.4,645.6 323.4,651.0 329.4,644.9 335.4,641.3 341.4,639.3 347.4,653.4 353.4,649.8 359.4,633.5 365.4,629.3 371.4,625.9 377.3,611.3 383.3,603.1 389.3,616.8 395.3,610.7 401.3,610.7 407.3,603.2 413.3,597.0 419.3,593.0 425.3,597.0 431.3,610.7 437.3,619.1 443.3,629.6 449.3,616.8 455.2,622.8 461.2,622.0 467.2,617.2 473.1,639.0 479.1,632.8 485.1,628.9 491.0,621.5 497.0,624.3 503.0,621.7 509.0,602.8 514.9,601.8 520.9,613.5 526.9,608.5 532.8,596.1 538.8,590.8 544.8,595.6 550.7,591.0 556.7,586.4 562.7,584.3 568.6,596.4 574.6,592.6 580.6,598.5 586.7,596.1 592.7,613.0 598.8,653.3 604.8,665.4 610.8,677.9 616.9,697.6 622.9,701.1 628.9,689.5 635.0,689.2 641.0,686.8 647.1,672.1 653.1,663.4 659.1,638.0 665.2,643.6 671.2,653.3 677.2,662.5 683.3,672.1 689.3,646.4 695.4,634.0 701.4,623.5 707.4,623.5 713.3,635.8 719.3,647.5 725.3,637.4 731.2,628.7 737.2,625.0 743.2,615.0 749.1,613.0 755.1,607.6 761.1,607.2 767.0,600.4 773.0,609.8 778.9,618.9 784.9,610.4 790.9,616.7 796.8,635.2 802.8,624.1 808.8,617.6 814.7,616.3 820.7,628.7 826.7,624.5 832.6,636.5 838.6,627.4 844.6,624.8 850.6,610.4 856.6,611.7 862.6,619.3 868.6,614.0 874.7,636.8 880.7,630.6 886.7,625.3 892.7,625.3 898.7,620.4 904.7,625.2 910.7,621.5 916.7,614.6 922.7,632.5 928.7,621.1 934.8,613.9 940.8,611.6 946.8,604.7 952.8,612.8 958.8,612.8 964.8,605.2 970.8,627.4 976.8,624.9 982.8,639.1 988.7,627.4 994.7,643.2 1000.7,639.1 1006.7,631.1 1012.7,621.8 1018.7,627.7 1024.7,629.1 1030.7,624.0 1036.6,621.5 1042.6,625.9 1048.6,624.7 1054.6,628.8 1060.6,629.5" fill="none" stroke="#7e57c2" stroke-width="1.1" stroke-linejoin="round"/><rect x="0" y="577" width="1380" height="1" fill="#e0e3eb" shape-rendering="crispEdges"/><rect x="1326" y="0" width="1" height="577" fill="#555" shape-rendering="crispEdges"/><rect x="1326" y="578" width="1" height="160" fill="#555" shape-rendering="crispEdges"/><rect x="0" y="713" width="1380" height="1" fill="#8e8e8e" shape-rendering="crispEdges"/><rect x="0" y="737" width="1380" height="1" fill="#e0e3eb" shape-rendering="crispEdges"/><rect x="0" y="772" width="1380" height="4" fill="#e0e3eb" shape-rendering="crispEdges"/><circle cx="1060.9" cy="565.2" r="9" fill="#fff" stroke="#9c27b0" stroke-width="1.5"/><circle cx="1078" cy="565.2" r="9.7" fill="#fff"/><circle cx="1078" cy="565.2" r="9" fill="none" stroke="#f23645" stroke-width="1.5"/><clipPath id="c10780"><circle cx="1078" cy="565.2" r="7.3"/></clipPath><g clip-path="url(#c10780)"><rect x="1070" y="557.2" width="16" height="16" fill="#fff"/><rect x="1070" y="558.4" width="16" height="1.8" fill="#ef4444"/><rect x="1070" y="564.0" width="16" height="2.9" fill="#ef4444"/><rect x="1070" y="569.0" width="16" height="4.0" fill="#ef4444"/><rect x="1070" y="557.2" width="9.6" height="10" fill="#3b8be0"/><circle cx="1074.4" cy="560.3" r="0.55" fill="#fff" fill-opacity="0.85"/><circle cx="1076.8" cy="560.3" r="0.55" fill="#fff" fill-opacity="0.85"/><circle cx="1073.2" cy="562.5" r="0.55" fill="#fff" fill-opacity="0.85"/><circle cx="1075.6" cy="562.5" r="0.55" fill="#fff" fill-opacity="0.85"/><circle cx="1077.8" cy="562.5" r="0.55" fill="#fff" fill-opacity="0.85"/><circle cx="1074.4" cy="564.7" r="0.55" fill="#fff" fill-opacity="0.85"/><circle cx="1076.8" cy="564.7" r="0.55" fill="#fff" fill-opacity="0.85"/></g><circle cx="1072" cy="565.2" r="9.7" fill="#fff"/><circle cx="1072" cy="565.2" r="9" fill="none" stroke="#f23645" stroke-width="1.5"/><clipPath id="c10720"><circle cx="1072" cy="565.2" r="7.3"/></clipPath><g clip-path="url(#c10720)"><rect x="1064" y="557.2" width="16" height="16" fill="#fff"/><rect x="1064" y="558.4" width="16" height="1.8" fill="#ef4444"/><rect x="1064" y="564.0" width="16" height="2.9" fill="#ef4444"/><rect x="1064" y="569.0" width="16" height="4.0" fill="#ef4444"/><rect x="1064" y="557.2" width="9.6" height="10" fill="#3b8be0"/><circle cx="1068.4" cy="560.3" r="0.55" fill="#fff" fill-opacity="0.85"/><circle cx="1070.8" cy="560.3" r="0.55" fill="#fff" fill-opacity="0.85"/><circle cx="1067.2" cy="562.5" r="0.55" fill="#fff" fill-opacity="0.85"/><circle cx="1069.6" cy="562.5" r="0.55" fill="#fff" fill-opacity="0.85"/><circle cx="1071.8" cy="562.5" r="0.55" fill="#fff" fill-opacity="0.85"/><circle cx="1068.4" cy="564.7" r="0.55" fill="#fff" fill-opacity="0.85"/><circle cx="1070.8" cy="564.7" r="0.55" fill="#fff" fill-opacity="0.85"/></g><circle cx="1066" cy="565.2" r="9.7" fill="#fff"/><circle cx="1066" cy="565.2" r="9" fill="none" stroke="#f23645" stroke-width="1.5"/><clipPath id="c10660"><circle cx="1066" cy="565.2" r="7.3"/></clipPath><g clip-path="url(#c10660)"><rect x="1058" y="557.2" width="16" height="16" fill="#fff"/><rect x="1058" y="558.4" width="16" height="1.8" fill="#ef4444"/><rect x="1058" y="564.0" width="16" height="2.9" fill="#ef4444"/><rect x="1058" y="569.0" width="16" height="4.0" fill="#ef4444"/><rect x="1058" y="557.2" width="9.6" height="10" fill="#3b8be0"/><circle cx="1062.4" cy="560.3" r="0.55" fill="#fff" fill-opacity="0.85"/><circle cx="1064.8" cy="560.3" r="0.55" fill="#fff" fill-opacity="0.85"/><circle cx="1061.2" cy="562.5" r="0.55" fill="#fff" fill-opacity="0.85"/><circle cx="1063.6" cy="562.5" r="0.55" fill="#fff" fill-opacity="0.85"/><circle cx="1065.8" cy="562.5" r="0.55" fill="#fff" fill-opacity="0.85"/><circle cx="1062.4" cy="564.7" r="0.55" fill="#fff" fill-opacity="0.85"/><circle cx="1064.8" cy="564.7" r="0.55" fill="#fff" fill-opacity="0.85"/></g><g fill="#131722" stroke="#fff" stroke-width="1.6" paint-order="stroke" stroke-linejoin="round"><path d="M10.8 687.1H21.4V700H16.2V691.8H10.8Z"/><circle cx="26.1" cy="689.4" r="2.35"/><path d="M31.4 687.1H37.1L32.2 700H26.5Z"/></g></svg>
<div class="wbg" style="left:3px;top:27px;width:80px;height:43px;opacity:.62"></div>
<div class="wbg" style="left:3px;top:582px;width:87px;height:19px;opacity:.72"></div>
<svg width="30" height="26" viewBox="0 0 30 26" style="position:absolute;left:0;top:0">
<circle cx="19" cy="11.6" r="5.2" fill="#fff" stroke="#e4e8f3" stroke-width="0.8"/>
<circle cx="19.4" cy="11.4" r="2.5" fill="#f0405a"/>
<circle cx="13.6" cy="17.2" r="6.4" fill="#fff"/>
<clipPath id="usf"><circle cx="13.6" cy="17.2" r="5.4"/></clipPath>
<g clip-path="url(#usf)"><rect x="8" y="11" width="12" height="12" fill="#fff"/>
<rect x="8" y="12.2" width="12" height="1.7" fill="#ef4444"/><rect x="8" y="15.9" width="12" height="2.4" fill="#ef4444"/><rect x="8" y="20.1" width="12" height="2.6" fill="#ef4444"/>
<rect x="8" y="11" width="6.9" height="7.8" fill="#2f8ae6"/></g></svg>
<div class="t" style="left:28.30px;top:8.40px;font-size:14px;color:#434343;transform-origin:0 0;transform:scaleX(0.9072);">U.S.</div>
<div class="t" style="left:59.60px;top:8.40px;font-size:14px;color:#434343;letter-spacing:-0.011px;">Dollar</div>
<div class="t" style="left:102.70px;top:8.40px;font-size:14px;color:#434343;transform-origin:0 0;transform:scaleX(1.1570);">/</div>
<div class="t" style="left:113.30px;top:8.40px;font-size:14px;color:#434343;letter-spacing:-0.252px;">Japanese</div>
<div class="t" style="left:177.00px;top:8.40px;font-size:14px;color:#434343;transform-origin:0 0;transform:scaleX(0.9015);">Yen</div>
<div class="t" style="left:211.00px;top:8.40px;font-size:14px;color:#434343;transform-origin:0 0;transform:scaleX(0.7655);">1D</div>
<div class="t" style="left:237.90px;top:8.40px;font-size:14px;color:#434343;transform-origin:0 0;transform:scaleX(0.8320);">FXCM</div>
<div style="position:absolute;left:202.7px;top:14.6px;width:2.3px;height:2.3px;border-radius:50%;background:#434343"></div>
<div style="position:absolute;left:230.3px;top:14.6px;width:2.3px;height:2.3px;border-radius:50%;background:#434343"></div>
<div style="position:absolute;left:285px;top:6.7px;width:15.6px;height:15.6px;border-radius:50%;background:#d9f0eb"></div><div style="position:absolute;left:288.8px;top:10.5px;width:8px;height:8px;border-radius:50%;background:#089981"></div>
<div class="t" style="left:315.10px;top:9.89px;font-size:11px;color:#555;transform-origin:0 0;transform:scaleX(0.9584);">O</div>
<div class="t" style="left:325.30px;top:9.89px;font-size:11px;color:#f23645;letter-spacing:-0.109px;">149.703</div>
<div class="t" style="left:370.70px;top:9.89px;font-size:11px;color:#555;transform-origin:0 0;transform:scaleX(0.8937);">H</div>
<div class="t" style="left:379.90px;top:9.89px;font-size:11px;color:#f23645;letter-spacing:-0.052px;">149.715</div>
<div class="t" style="left:425.70px;top:9.89px;font-size:11px;color:#555;transform-origin:0 0;transform:scaleX(0.8336);">L</div>
<div class="t" style="left:432.80px;top:9.89px;font-size:11px;color:#f23645;letter-spacing:-0.052px;">149.616</div>
<div class="t" style="left:478.90px;top:9.89px;font-size:11px;color:#555;transform-origin:0 0;transform:scaleX(0.7427);">C</div>
<div class="t" style="left:487.00px;top:9.89px;font-size:11px;color:#f23645;letter-spacing:0.005px;">149.679</div>
<div class="t" style="left:534.00px;top:9.89px;font-size:11px;color:#f23645;letter-spacing:-0.075px;">−0.024</div>
<div class="t" style="left:572.20px;top:9.89px;font-size:11px;color:#f23645;letter-spacing:-0.230px;">(−0.02%)</div>
<div class="t" style="left:8.40px;top:31.19px;font-size:11px;color:#4a4a4a;transform-origin:0 0;transform:scaleX(0.8684);">EMA</div>
<div class="t" style="left:37.30px;top:31.19px;font-size:11px;color:#2962ff;letter-spacing:0.020px;">147.686</div>
<div class="t" style="left:8.40px;top:53.29px;font-size:11px;color:#4a4a4a;transform-origin:0 0;transform:scaleX(0.8684);">EMA</div>
<div class="t" style="left:37.30px;top:53.29px;font-size:11px;color:#9c27b0;letter-spacing:0.020px;">141.719</div>
<div style="position:absolute;left:8px;top:70.4px;width:26px;height:18px;box-sizing:border-box;border:1px solid #dfe2ea;border-radius:4px;background:#fff"></div>
<svg width="10" height="6" viewBox="0 0 10 6" style="position:absolute;left:15.45px;top:76.8px"><path d="M1.5 4.7L5 1.3L8.5 4.7" fill="none" stroke="#2a2e39" stroke-width="1.35"/></svg>
<div class="t" style="left:8.20px;top:587.29px;font-size:11px;color:#4f4f4f;transform-origin:0 0;transform:scaleX(0.8016);">RSI</div>
<div class="t" style="left:31.20px;top:587.29px;font-size:11px;color:#7e57c2;letter-spacing:0.055px;">58.79</div>
<svg width="8" height="11" viewBox="0 0 8 11" style="position:absolute;left:64.2px;top:586.6px"><ellipse cx="4" cy="5.6" rx="2.5" ry="3.5" fill="none" stroke="#2a2e39" stroke-width="1.05"/><path d="M1.3 9.6L6.7 1.6" stroke="#2a2e39" stroke-width="0.9"/></svg>
<svg width="8" height="11" viewBox="0 0 8 11" style="position:absolute;left:77.2px;top:586.6px"><ellipse cx="4" cy="5.6" rx="2.5" ry="3.5" fill="none" stroke="#2a2e39" stroke-width="1.05"/><path d="M1.3 9.6L6.7 1.6" stroke="#2a2e39" stroke-width="0.9"/></svg>
<div style="position:absolute;left:1330px;top:3px;width:47px;height:24px;box-sizing:border-box;border:1px solid #e6e8f0;border-radius:4px;background:#fff"></div>
<div class="t" style="left:1333.50px;top:9.70px;font-size:10.4px;color:#131722;transform-origin:0 0;transform:scaleX(0.7969);">JPY</div>
<svg width="8" height="6" viewBox="0 0 8 6" style="position:absolute;left:1366.3px;top:12.4px"><path d="M1.4 1.6L4 4L6.6 1.6" fill="none" stroke="#131722" stroke-width="1.5"/></svg>
<div class="gl" style="top:127px">148.000</div>
<div class="gl" style="top:170px">146.000</div>
<div class="gl" style="top:213px">144.000</div>
<div class="gl" style="top:298px">140.000</div>
<div class="gl" style="top:341px">138.000</div>
<div class="gl" style="top:383px">136.000</div>
<div class="gl" style="top:426px">134.000</div>
<div class="gl" style="top:469px">132.000</div>
<div class="gl" style="top:511px">130.000</div>
<div class="pl" style="top:42.5px">151.889</div>
<div class="pl" style="top:75.5px">150.201</div>
<div class="pl" style="top:116.5px">148.405</div>
<div class="pl" style="top:153.5px">146.649</div>
<div class="pl" style="top:195.5px">144.713</div>
<div class="pl" style="top:249.5px">142.177</div>
<div class="pl" style="top:308.5px">139.359</div>
<div class="pl" style="top:348.5px">137.525</div>
<div style="position:absolute;left:1284.3px;top:89px;width:91.4px;height:13.8px;background:#eb4d5c;border-radius:2px"></div>
<div style="position:absolute;left:1326px;top:89px;width:1px;height:13.8px;background:#f7b4bb"></div>
<div class="t" style="left:1288.30px;top:91.63px;font-size:10px;color:#fff;transform-origin:0 0;transform:scaleX(0.8009);">USDJPY</div>
<div class="t" style="left:1333.30px;top:91.63px;font-size:10px;color:#fff;letter-spacing:-0.153px;">21:56:13</div>
<div class="btn" style="left:1333px;top:554px"></div><div class="btn" style="left:1355px;top:554px"></div>
<div class="t" style="left:1338.60px;top:556.76px;font-size:13.4px;color:#131722;transform-origin:0 0;transform:scaleX(0.8503);">A</div>
<div class="t" style="left:1361.10px;top:556.76px;font-size:13.4px;color:#131722;transform-origin:0 0;transform:scaleX(0.8051);">L</div>
<div class="gl" style="top:596px;left:1333.3px">70.00</div>
<div class="gl" style="top:623px;left:1333.3px">60.00</div>
<div class="gl" style="top:649px;left:1333.3px">50.00</div>
<div class="gl" style="top:675px;left:1333.3px">40.00</div>
<div class="btn" style="left:1333px;top:690px;background:#e3effd;border-color:#e3effd"></div><div class="btn" style="left:1355px;top:690px"></div>
<div class="t" style="left:1338.60px;top:693.16px;font-size:13.4px;color:#2962ff;transform-origin:0 0;transform:scaleX(0.8503);">A</div>
<div class="t" style="left:1361.10px;top:693.16px;font-size:13.4px;color:#131722;transform-origin:0 0;transform:scaleX(0.8051);">L</div>
<div class="t" style="left:38.95px;top:720.21px;font-size:10.5px;color:#5a5a5a;font-weight:bold;transform-origin:0 0;transform:scaleX(0.8944);">Mar</div>
<div class="t" style="left:177.40px;top:720.21px;font-size:10.5px;color:#5a5a5a;font-weight:bold;transform-origin:0 0;transform:scaleX(0.8848);">Apr</div>
<div class="t" style="left:296.65px;top:720.21px;font-size:10.5px;color:#5a5a5a;font-weight:bold;transform-origin:0 0;transform:scaleX(0.8567);">May</div>
<div class="t" style="left:435.55px;top:720.21px;font-size:10.5px;color:#5a5a5a;font-weight:bold;transform-origin:0 0;transform:scaleX(0.8303);">Jun</div>
<div class="t" style="left:568.35px;top:720.21px;font-size:10.5px;color:#5a5a5a;font-weight:bold;transform-origin:0 0;transform:scaleX(0.8239);">Jul</div>
<div class="t" style="left:692.90px;top:720.21px;font-size:10.5px;color:#5a5a5a;font-weight:bold;transform-origin:0 0;transform:scaleX(0.8329);">Aug</div>
<div class="t" style="left:830.35px;top:720.21px;font-size:10.5px;color:#5a5a5a;font-weight:bold;transform-origin:0 0;transform:scaleX(0.8568);">Sep</div>
<div class="t" style="left:957.30px;top:720.21px;font-size:10.5px;color:#5a5a5a;font-weight:bold;transform-origin:0 0;transform:scaleX(0.8570);">Oct</div>
<div class="t" style="left:1088.00px;top:720.21px;font-size:10.5px;color:#5a5a5a;font-weight:bold;transform-origin:0 0;transform:scaleX(0.8570);">Nov</div>
<div class="t" style="left:1220.60px;top:720.21px;font-size:10.5px;color:#5a5a5a;font-weight:bold;transform-origin:0 0;transform:scaleX(0.8306);">Dec</div>
<svg width="17" height="16" viewBox="0 0 17 16" style="position:absolute;left:1345px;top:718px"><path d="M4.8 2.6H12L15 8.2L12 13.6H4.8L2 8.2Z" fill="none" stroke="#2a2e39" stroke-width="1.2" stroke-linejoin="round"/><circle cx="8.45" cy="8.2" r="1.95" fill="none" stroke="#2a2e39" stroke-width="1.1"/></svg>
<div class="t" style="left:13.50px;top:748.79px;font-size:13.6px;color:#0c0c0c;transform-origin:0 0;transform:scaleX(0.7592);">1D</div>
<div class="t" style="left:38.00px;top:748.79px;font-size:13.6px;color:#0c0c0c;transform-origin:0 0;transform:scaleX(0.7880);">5D</div>
<div class="t" style="left:63.00px;top:748.79px;font-size:13.6px;color:#0c0c0c;transform-origin:0 0;transform:scaleX(0.8098);">1M</div>
<div class="t" style="left:89.60px;top:748.79px;font-size:13.6px;color:#0c0c0c;transform-origin:0 0;transform:scaleX(0.8045);">3M</div>
<div class="t" style="left:115.70px;top:748.79px;font-size:13.6px;color:#0c0c0c;transform-origin:0 0;transform:scaleX(0.8098);">6M</div>
<div class="t" style="left:141.70px;top:748.79px;font-size:13.6px;color:#0c0c0c;transform-origin:0 0;transform:scaleX(0.7831);">YTD</div>
<div class="t" style="left:175.70px;top:748.79px;font-size:13.6px;color:#0c0c0c;transform-origin:0 0;transform:scaleX(0.7815);">1Y</div>
<div class="t" style="left:199.60px;top:748.79px;font-size:13.6px;color:#0c0c0c;transform-origin:0 0;transform:scaleX(0.7454);">5Y</div>
<div class="t" style="left:223.90px;top:748.79px;font-size:13.6px;color:#0c0c0c;letter-spacing:-0.172px;">All</div>
<div style="position:absolute;left:248px;top:745px;width:1px;height:20px;background:#e0e3eb"></div>
<svg width="20" height="20" viewBox="0 0 20 20" style="position:absolute;left:259px;top:744px"><g fill="none" stroke="#2a2e39" stroke-width="1.15" stroke-linecap="round" stroke-linejoin="round">
<path d="M2.6 9.3V5.4Q2.6 3.6 4.4 3.6H16Q17.9 3.6 17.9 5.4V15.6Q17.9 17.4 16 17.4H10.6"/><path d="M2.6 7.5H17.9"/><path d="M7 2V4.8M13.2 2V4.8"/><path d="M1.2 14.7H7.8M5.2 11.9L8 14.7L5.2 17.7"/></g></svg>
<div class="t" style="left:1290.20px;top:748.88px;font-size:12.9px;color:#1c1c1c;letter-spacing:-0.350px;">23:03:48 (UTC)</div>
</body></html>
